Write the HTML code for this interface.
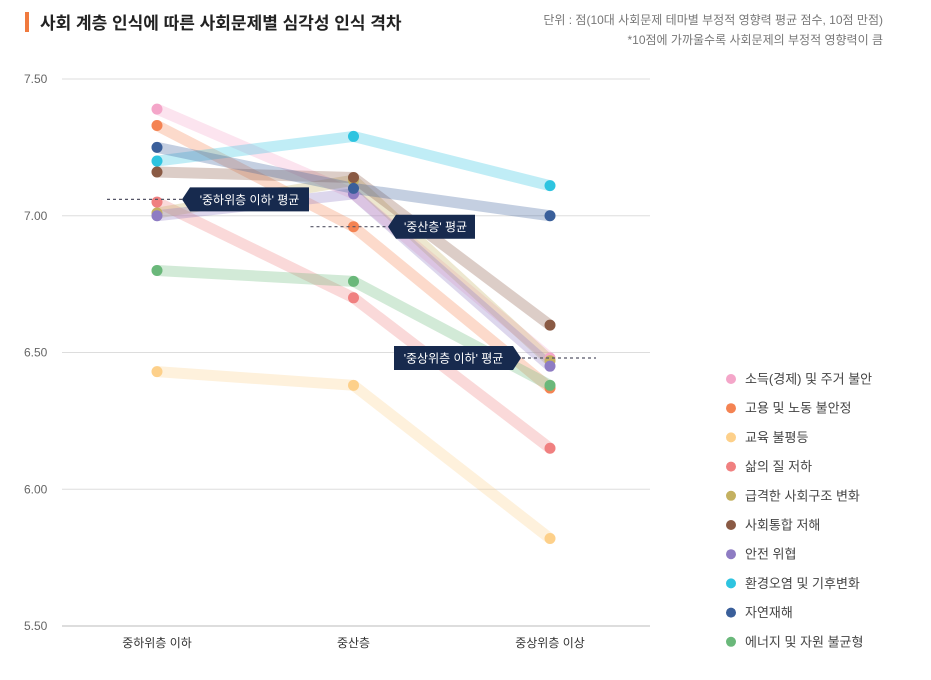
<!DOCTYPE html>
<html><head><meta charset="utf-8"><style>
body{margin:0;background:#fff;font-family:"Liberation Sans","Noto Sans CJK KR",sans-serif;}
svg text{font-family:"Liberation Sans","Noto Sans CJK KR",sans-serif;}
</style></head><body>
<svg id="c" width="931" height="675">
<rect x="25" y="12" width="4" height="20" fill="#f07a3e"/>
<text x="40" y="29" font-size="17" font-weight="bold" fill="#222">사회 계층 인식에 따른 사회문제별 심각성 인식 격차</text>
<text x="883" y="24" font-size="12" fill="#777" text-anchor="end">단위 : 점(10대 사회문제 테마별 부정적 영향력 평균 점수, 10점 만점)</text>
<text x="883" y="44" font-size="12" fill="#777" text-anchor="end">*10점에 가까울수록 사회문제의 부정적 영향력이 큼</text>
<g id="grid"></g><g id="lines"></g><g id="dots"></g><g id="ann"></g><g id="legend"></g>
</svg>
<script>
const categories=["중하위층 이하","중산층","중상위층 이상"];
const seriesNames=["소득(경제) 및 주거 불안","고용 및 노동 불안정","교육 불평등","삶의 질 저하","급격한 사회구조 변화","사회통합 저해","안전 위협","환경오염 및 기후변화","자연재해","에너지 및 자원 불균형"];
const colors=["#f4a6c9","#f48352","#fdd08a","#f08080","#c4b160","#8a5a44","#8e7cc3","#2ec4e0","#3a5f9a","#6ab87a"];
const s0=[7.39,7.08,6.48];
const s1=[7.33,6.96,6.37];
const s2=[6.43,6.38,5.82];
const s3=[7.05,6.70,6.15];
const s4=[7.01,7.13,6.47];
const s5=[7.16,7.14,6.60];
const s6=[7.00,7.08,6.45];
const s7=[7.20,7.29,7.11];
const s8=[7.25,7.10,7.00];
const s9=[6.80,6.76,6.38];
const series=[s0,s1,s2,s3,s4,s5,s6,s7,s8,s9];
const averages=[7.06,6.96,6.48];
const avgLabels=["'중하위층 이하' 평균","'중산층' 평균","'중상위층 이하' 평균"];
const ticks=[7.5,7.0,6.5,6.0,5.5];
const tickLabels=["7.50","7.00","6.50","6.00","5.50"];
const NS="http://www.w3.org/2000/svg";
const y=v=>79+(7.5-v)*273.5;
const x=i=>157+i*196.5;
function mk(p,t,a){const e=document.createElementNS(NS,t);for(const k in a)e.setAttribute(k,a[k]);p.appendChild(e);return e;}
const G=document.getElementById('grid');
ticks.forEach((t,i)=>{
 const l=mk(G,'line',{x1:62,x2:650,y1:y(t),y2:y(t),stroke:i==4?'#bbb':'#ddd','stroke-width':1});
 
 const tx=mk(G,'text',{x:24,y:y(t)+4,'font-size':12,fill:'#666'});tx.textContent=tickLabels[i];
 
});
categories.forEach((c,i)=>{const t=mk(G,'text',{x:x(i),y:647,'font-size':12,fill:'#333','text-anchor':'middle'});t.textContent=c;
 });
const L=document.getElementById('lines'),D=document.getElementById('dots');
series.forEach((s,k)=>{
 const p=mk(L,'polyline',{points:s.map((v,i)=>x(i)+','+y(v)).join(' '),fill:'none',stroke:colors[k],'stroke-width':11,'stroke-opacity':0.3,'stroke-linecap':'round','stroke-linejoin':'round'});
 
});
series.forEach((s,k)=>{s.forEach((v,i)=>{
 const c=mk(D,'circle',{cx:x(i),cy:y(v),r:5.5,fill:colors[k]});
 
});});
const A=document.getElementById('ann');
const cfg=[{dx1:-50,dx2:33,bx:190,bw:119,dir:-1},{dx1:-43,dx2:42,bx:396,bw:79,dir:-1},{dx1:-40,dx2:46,bx:394,bw:119,dir:1}];
averages.forEach((a,i)=>{
 const yy=y(a),c=cfg[i];
 const l=mk(A,'line',{x1:x(i)+c.dx1,x2:x(i)+c.dx2,y1:yy,y2:yy,stroke:'#556','stroke-width':1.2,'stroke-dasharray':'3,3'});
 
 const bx=c.bx,bw=c.bw,t=yy-12,b=yy+12;
 let pts=c.dir<0?`${bx-8},${yy} ${bx},${t} ${bx+bw},${t} ${bx+bw},${b} ${bx},${b}`:`${bx},${t} ${bx+bw},${t} ${bx+bw+8},${yy} ${bx+bw},${b} ${bx},${b}`;
 const p=mk(A,'polygon',{points:pts,fill:'#172a4e'});
 
 const tx=mk(A,'text',{x:bx+bw/2,y:yy+4.5,'font-size':12,fill:'#fff','text-anchor':'middle'});tx.textContent=avgLabels[i];
 
});
const LG=document.getElementById('legend');
seriesNames.forEach((n,k)=>{
 const yy=379+k*29.2;
 const g=mk(LG,'g',{});
 mk(g,'circle',{cx:731,cy:yy,r:5,fill:colors[k]});
 const t=mk(g,'text',{x:745,y:yy+4.5,'font-size':13,fill:'#444'});t.textContent=n;
});
</script>
</body></html>
